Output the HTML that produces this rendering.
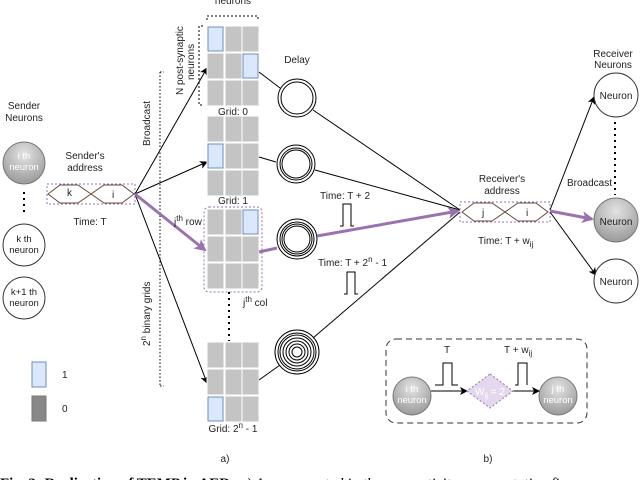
<!DOCTYPE html>
<html><head><meta charset="utf-8"><style>
body{margin:0;background:#fff;}
svg{display:block;font-family:"Liberation Sans",sans-serif;}
</style></head><body>
<svg width="640" height="480" viewBox="0 0 640 480" xmlns="http://www.w3.org/2000/svg">
<defs>
<radialGradient id="g" cx="50%" cy="30%" r="70%"><stop offset="0" stop-color="#e4e4e4"/><stop offset="1" stop-color="#9a9a9a"/></radialGradient>
<marker id="a" markerWidth="8" markerHeight="8" refX="7" refY="4" orient="auto" markerUnits="userSpaceOnUse"><path d="M0,0 L8,4 L0,8 L2,4 z" fill="#000"/></marker>
<marker id="p" markerWidth="12" markerHeight="12" refX="10" refY="6" orient="auto" markerUnits="userSpaceOnUse"><path d="M0,0 L12,6 L0,12 L3,6 z" fill="#9a72b0"/></marker>
</defs>
<g font-size="10" fill="#222">
<text x="233" y="4" text-anchor="middle">neurons</text>
<path d="M207,20 v-4 h51 v4" fill="none" stroke="#000" stroke-dasharray="2,2"/>
<path d="M203,26 h-4 v79 h4" fill="none" stroke="#000" stroke-dasharray="2,2"/>
<text transform="translate(183,95) rotate(-90)" font-size="10">N post-synaptic</text>
<text transform="translate(194,80) rotate(-90)" font-size="10">neurons</text>
<text x="297" y="63" text-anchor="middle">Delay</text>
<text x="24" y="109" text-anchor="middle">Sender</text>
<text x="24" y="121" text-anchor="middle">Neurons</text>
<circle cx="24" cy="163" r="21" fill="url(#g)" stroke="#777"/>
<text x="24" y="159" text-anchor="middle" fill="#fff" font-size="9.5">i th</text>
<text x="24" y="170" text-anchor="middle" fill="#fff" font-size="9.5">neuron</text>
<line x1="24" y1="192" x2="24" y2="216" stroke="#000" stroke-width="2" stroke-dasharray="2,4"/>
<circle cx="24" cy="245" r="21" fill="#fff" stroke="#333"/>
<text x="24" y="242" text-anchor="middle" font-size="9.5">k th</text>
<text x="24" y="253" text-anchor="middle" font-size="9.5">neuron</text>
<circle cx="24" cy="298" r="21" fill="#fff" stroke="#333"/>
<text x="24" y="295" text-anchor="middle" font-size="9.5">k+1 th</text>
<text x="24" y="306" text-anchor="middle" font-size="9.5">neuron</text>
<text x="85" y="159" text-anchor="middle">Sender's</text>
<text x="85" y="171" text-anchor="middle">address</text>
<rect x="47" y="184" width="88" height="20" fill="none" stroke="#9a72b0" stroke-dasharray="2,2"/>
<path d="M48,194 L60,185 H78 L104,203 H122 L134,194 L122,185 H104 L78,203 H60 Z" fill="none" stroke="#6a4a3a"/>
<text x="67" y="196">k</text><text x="112" y="198">i</text>
<text x="90" y="225" text-anchor="middle">Time: T</text>
<text transform="translate(150,146) rotate(-90)" font-size="10">Broadcast</text>
<line x1="160" y1="72" x2="160" y2="386" stroke="#000" stroke-dasharray="1.5,2"/>
<line x1="160" y1="72" x2="164" y2="72" stroke="#000" stroke-dasharray="1.5,2"/>
<line x1="160" y1="386" x2="164" y2="386" stroke="#000" stroke-dasharray="1.5,2"/>
<text transform="translate(150,346) rotate(-90)" font-size="10">2<tspan dy="-4" font-size="8">n</tspan><tspan dy="4"> binary grids</tspan></text>
<line x1="135" y1="194" x2="207" y2="68" stroke="#000" marker-end="url(#a)"/>
<line x1="135" y1="194" x2="207" y2="162" stroke="#000" marker-end="url(#a)"/>
<line x1="135" y1="194" x2="207" y2="383" stroke="#000" marker-end="url(#a)"/>
<line x1="135" y1="194" x2="205" y2="250" stroke="#9a72b0" stroke-width="3" marker-end="url(#p)"/>
<g stroke="#fff" stroke-width="1">
<g fill="#c4c4c4">
<rect x="207" y="26" width="17" height="26"/><rect x="225" y="26" width="17" height="26"/><rect x="242" y="26" width="17" height="26"/>
<rect x="207" y="53" width="17" height="26"/><rect x="225" y="53" width="17" height="26"/><rect x="242" y="53" width="17" height="26"/>
<rect x="207" y="80" width="17" height="26"/><rect x="225" y="80" width="17" height="26"/><rect x="242" y="80" width="17" height="26"/>
<rect x="207" y="116" width="17" height="26"/><rect x="225" y="116" width="17" height="26"/><rect x="242" y="116" width="17" height="26"/>
<rect x="207" y="143" width="17" height="26"/><rect x="225" y="143" width="17" height="26"/><rect x="242" y="143" width="17" height="26"/>
<rect x="207" y="170" width="17" height="26"/><rect x="225" y="170" width="17" height="26"/><rect x="242" y="170" width="17" height="26"/>
<rect x="207" y="209" width="17" height="26"/><rect x="225" y="209" width="17" height="26"/><rect x="242" y="209" width="17" height="26"/>
<rect x="207" y="236" width="17" height="26"/><rect x="225" y="236" width="17" height="26"/><rect x="242" y="236" width="17" height="26"/>
<rect x="207" y="263" width="17" height="26"/><rect x="225" y="263" width="17" height="26"/><rect x="242" y="263" width="17" height="26"/>
<rect x="207" y="342" width="17" height="26"/><rect x="225" y="342" width="17" height="26"/><rect x="242" y="342" width="17" height="26"/>
<rect x="207" y="369" width="17" height="26"/><rect x="225" y="369" width="17" height="26"/><rect x="242" y="369" width="17" height="26"/>
<rect x="207" y="396" width="17" height="26"/><rect x="225" y="396" width="17" height="26"/><rect x="242" y="396" width="17" height="26"/>
</g>
</g>
<g fill="#dbe8fb" stroke="#6c8ebf">
<rect x="208" y="27" width="15" height="24"/><rect x="243" y="54" width="15" height="24"/>
<rect x="208" y="144" width="15" height="24"/><rect x="243" y="210" width="15" height="24"/>
<rect x="208" y="397" width="15" height="24"/>
</g>
<text x="233" y="115" text-anchor="middle">Grid: 0</text>
<text x="233" y="204" text-anchor="middle">Grid: 1</text>
<text x="233" y="432" text-anchor="middle">Grid: 2<tspan dy="-4" font-size="8">n</tspan><tspan dy="4"> - 1</tspan></text>
<rect x="204" y="207" width="58" height="85" rx="5" fill="none" stroke="#9a72b0" stroke-dasharray="2,2"/>
<text x="174" y="225">j<tspan dy="-4" font-size="8">th</tspan><tspan dy="4"> row</tspan></text>
<text x="243" y="306">j<tspan dy="-4" font-size="8">th</tspan><tspan dy="4"> col</tspan></text>
<line x1="229" y1="292" x2="229" y2="341" stroke="#000" stroke-width="2" stroke-dasharray="2,4"/>
<g fill="none" stroke="#000">
<line x1="259" y1="72" x2="280" y2="88"/>
<line x1="259" y1="157" x2="276" y2="162"/>
<line x1="259" y1="380" x2="280" y2="365"/>
<line x1="313" y1="110" x2="460" y2="210"/>
<line x1="315" y1="170" x2="460" y2="210"/>
<line x1="313" y1="338" x2="460" y2="212"/>
<circle cx="297" cy="98" r="19"/><circle cx="297" cy="98" r="16"/>
<circle cx="296" cy="164" r="19"/><circle cx="296" cy="164" r="16"/><circle cx="296" cy="164" r="14"/>
<circle cx="297" cy="239" r="20"/><circle cx="297" cy="239" r="17"/><circle cx="297" cy="239" r="15"/><circle cx="297" cy="239" r="13"/>
<circle cx="297" cy="352" r="22"/><circle cx="297" cy="352" r="19"/><circle cx="297" cy="352" r="17"/><circle cx="297" cy="352" r="14"/><circle cx="297" cy="352" r="11"/><circle cx="297" cy="352" r="8"/><circle cx="297" cy="352" r="5"/>
</g>
<line x1="259" y1="252" x2="277" y2="248" stroke="#9a72b0" stroke-width="3"/>
<line x1="317" y1="236" x2="458" y2="211" stroke="#9a72b0" stroke-width="3" marker-end="url(#p)"/>
<text x="320" y="199">Time: T + 2</text>
<path d="M340,226 h3 v-22 h8 v22 h3" fill="none" stroke="#000"/>
<text x="318" y="266">Time: T + 2<tspan dy="-4" font-size="8">n</tspan><tspan dy="4"> - 1</tspan></text>
<path d="M344,294 h3 v-22 h8 v22 h3" fill="none" stroke="#000"/>
<text x="502" y="182" text-anchor="middle">Receiver's</text>
<text x="502" y="194" text-anchor="middle">address</text>
<rect x="460" y="202" width="90" height="20" fill="none" stroke="#9a72b0" stroke-dasharray="2,2"/>
<path d="M462,212 L474,203 H492 L518,221 H536 L548,212 L536,203 H518 L492,221 H474 Z" fill="none" stroke="#6a4a3a"/>
<text x="482" y="216">j</text><text x="526" y="216">i</text>
<text x="478" y="244">Time: T + w<tspan dy="3" font-size="8">ij</tspan></text>
<text x="613" y="57" text-anchor="middle">Receiver</text>
<text x="613" y="68" text-anchor="middle">Neurons</text>
<line x1="550" y1="210" x2="594" y2="97" stroke="#000" marker-end="url(#a)"/>
<line x1="550" y1="212" x2="596" y2="275" stroke="#000" marker-end="url(#a)"/>
<line x1="550" y1="211" x2="592" y2="219" stroke="#9a72b0" stroke-width="3" marker-end="url(#p)"/>
<line x1="615" y1="122" x2="615" y2="195" stroke="#000" stroke-width="2" stroke-dasharray="2,4"/>
<text x="567" y="186">Broadcast</text>
<circle cx="616" cy="95" r="22" fill="#fff" stroke="#333"/>
<text x="616" y="99" text-anchor="middle">Neuron</text>
<circle cx="616" cy="220" r="22" fill="url(#g)" stroke="#777"/>
<text x="616" y="225" text-anchor="middle">Neuron</text>
<circle cx="616" cy="281" r="22" fill="#fff" stroke="#333"/>
<text x="616" y="285" text-anchor="middle">Neuron</text>
<rect x="386" y="339" width="201" height="84" rx="10" fill="none" stroke="#333" stroke-dasharray="6,4"/>
<circle cx="412" cy="396" r="19" fill="url(#g)" stroke="#777"/>
<text x="412" y="392" text-anchor="middle" fill="#fff" font-size="9.5">i th</text>
<text x="412" y="403" text-anchor="middle" fill="#fff" font-size="9.5">neuron</text>
<circle cx="558" cy="396" r="19" fill="url(#g)" stroke="#777"/>
<text x="558" y="392" text-anchor="middle" fill="#fff" font-size="9.5">j th</text>
<text x="558" y="403" text-anchor="middle" fill="#fff" font-size="9.5">neuron</text>
<line x1="431" y1="391" x2="467" y2="391" stroke="#000" marker-end="url(#a)"/>
<line x1="513" y1="391" x2="539" y2="391" stroke="#000" marker-end="url(#a)"/>
<path d="M490,374 L513,391 L490,408 L467,391 Z" fill="#e4d8ee" stroke="#9a72b0" stroke-dasharray="2,2"/>
<text x="490" y="395" text-anchor="middle" fill="#fff" font-size="10">W<tspan dy="3" font-size="8">ij</tspan><tspan dy="-3"> = 2</tspan></text>
<text x="447" y="353" text-anchor="middle">T</text>
<path d="M435,385 h8 v-22 h9 v22 h6" fill="none" stroke="#000"/>
<text x="504" y="353">T + w<tspan dy="3" font-size="8">ij</tspan></text>
<path d="M515,385 h3 v-22 h9 v22" fill="none" stroke="#000"/>
<rect x="32" y="362" width="14" height="25" fill="#dbe8fb" stroke="#6c8ebf"/>
<rect x="32" y="396" width="14" height="25" fill="#888" stroke="#777"/>
<text x="62" y="378">1</text><text x="62" y="412">0</text>
<text x="225" y="462" text-anchor="middle">a)</text>
<text x="488" y="462" text-anchor="middle">b)</text>
<text x="0" y="488" font-family="Liberation Serif,serif" font-size="15" font-weight="bold" fill="#000">Fig. 3: Realization of TEMP in AER: <tspan font-weight="normal" font-style="italic">a) As represented in the connectivity representation figure</tspan></text>
</g>
</svg>
</body></html>
